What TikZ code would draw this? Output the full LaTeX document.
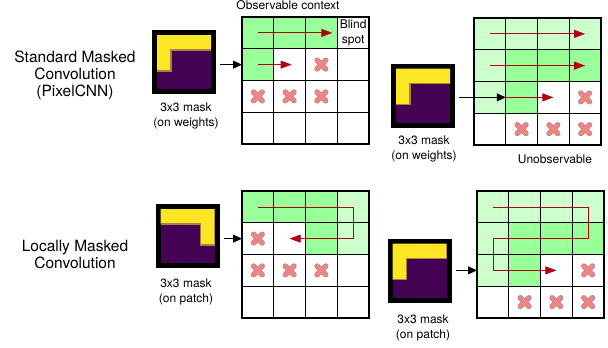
\documentclass[tikz,border=0pt]{standalone}
\usepackage{fontspec}
\setmainfont{TeX Gyre Heros}
\usetikzlibrary{arrows.meta}
\definecolor{gbright}{RGB}{153,255,153}
\definecolor{glight}{RGB}{204,255,204}
\definecolor{vyel}{HTML}{FDE725}
\definecolor{vpur}{HTML}{440154}
\definecolor{arrred}{RGB}{178,0,20}
\definecolor{xpink}{RGB}{245,130,130}
\definecolor{xgray}{RGB}{150,150,150}
\tikzset{
 cell/.style={draw=black, line width=1.1pt, minimum size=31.75pt, inner sep=0pt, outer sep=0pt},
 maskbox/.style={fill=black, minimum size=64pt, inner sep=0pt, outer sep=0pt},
 lbl/.style={font=\fontsize{12}{15}\selectfont, align=center, inner sep=0pt},
 biglbl/.style={font=\fontsize{15.5}{17}\selectfont, align=center, inner sep=0pt},
 feed/.style={-{Triangle[length=9pt,width=8pt]}, line width=0.9pt, black, shorten <=4pt},
 scan/.style={-{Triangle[length=11pt,width=8pt]}, line width=0.9pt, arrred},
}
\newcommand\mkgrid[4]{%
 \foreach \k [count=\i from 0] in {#4} {
   \pgfmathtruncatemacro\rr{int(\i/4)+1}
   \pgfmathtruncatemacro\cc{mod(\i,4)+1}
   \node[cell, fill=\k] (#1-\rr-\cc) at ({#2+(\cc-0.5)*31.75}, {#3+(\rr-0.5)*31.75}) {};
 }}
\newcommand\xmk[1]{\begin{scope}[shift={(#1.center)}]
 \draw[xgray, line width=5.6pt, line cap=round] (-4.3,-4.3) -- (4.3,4.3) (-4.3,4.3) -- (4.3,-4.3);
 \draw[xpink, line width=4.2pt, line cap=round] (-4.3,-4.3) -- (4.3,4.3) (-4.3,4.3) -- (4.3,-4.3);
\end{scope}}
\newcommand\maskfill[2]{\begin{scope}[shift={(#1.center)}, xscale=#2]
 \fill[vpur] (-27,-27) rectangle (27,27);
 \fill[vyel] (-27,-27) -- (27,-27) -- (27,-12) -- (-13,-12) -- (-13,9) -- (-27,9) -- cycle;
 \draw[vyel!55!vpur, line width=1.6pt] (27,-12) -- (-13,-12) -- (-13,9) -- (-27,9);
\end{scope}}
\begin{document}
\begin{tikzpicture}[x=1pt,y=-1pt]
\useasboundingbox (0,0) rectangle (608,348);
% grids
\mkgrid{G1}{242}{17}{gbright,gbright,gbright,white, gbright,white,white,white, white,white,white,white, white,white,white,white}
\mkgrid{G2}{474}{18}{glight,glight,glight,glight, glight,gbright,gbright,gbright, glight,gbright,white,white, white,white,white,white}
\mkgrid{G3}{242}{191}{gbright,gbright,gbright,glight, white,white,gbright,glight, white,white,white,white, white,white,white,white}
\mkgrid{G4}{477}{191}{glight,glight,glight,glight, glight,gbright,gbright,gbright, glight,gbright,white,white, white,white,white,white}
% crosses
\xmk{G1-2-3}\xmk{G1-3-1}\xmk{G1-3-2}\xmk{G1-3-3}
\xmk{G2-3-4}\xmk{G2-4-2}\xmk{G2-4-3}\xmk{G2-4-4}
\xmk{G3-2-1}\xmk{G3-3-1}\xmk{G3-3-2}\xmk{G3-3-3}
\xmk{G4-3-4}\xmk{G4-4-2}\xmk{G4-4-3}\xmk{G4-4-4}
% scan orders
\draw[scan] (G1-1-1.center) -- ([xshift=11pt]G1-1-3.center);
\draw[scan] (G1-2-1.center) -- ([xshift=2pt]G1-2-2.center);
\draw[scan] (G2-1-1.center) -- (G2-1-4.center);
\draw[scan] (G2-2-1.center) -- (G2-2-4.center);
\draw[scan] (G2-3-2.west) -- (G2-3-3.center);
\draw[scan, line width=0.7pt] (G3-1-1.center) -- (G3-1-4.center) -- (G3-2-4.center) -- (G3-2-2.center);
\draw[scan, line width=0.7pt] (G4-1-1.center) -- (G4-1-4.center) -- (G4-2-4.center) -- (G4-2-1.center) -- (G4-3-1.center) -- (G4-3-3.center);
% masks
\node[maskbox] (m1) at (184,62) {};
\node[maskbox] (m2) at (423,95.5) {};
\node[maskbox] (m3) at (187.5,236) {};
\node[maskbox] (m4) at (419.5,270.5) {};
\maskfill{m1}{1}
\maskfill{m2}{1}
\maskfill{m3}{-1}
\maskfill{m4}{1}
% feed arrows
\draw[feed] (m1.east |- G1-2-1.west) -- (G1-2-1.west);
\draw[feed] (m2.east |- G2-3-2.west) -- (G2-3-2.west);
\draw[feed] (m3.east |- G3-2-1.west) -- (G3-2-1.west);
\draw[feed] (m4.east |- G4-3-1.west) -- (G4-3-1.west);
% labels
\node[biglbl] (t1) at (75,75) {Standard Masked\\Convolution\\(PixelCNN)};
\node[biglbl] (t2) at (75,254.5) {Locally Masked\\Convolution};
\node[lbl] (l1) at (186,115.5) {3x3 mask\\(on weights)};
\node[lbl] (l2) at (424,149) {3x3 mask\\(on weights)};
\node[lbl] (l3) at (186,291.5) {3x3 mask\\(on patch)};
\node[lbl] (l4) at (423,328) {3x3 mask\\(on patch)};
\node[lbl, anchor=base] (oc) at (288,9.6) {Observable context};
\node[lbl] (bs) at (G1-1-4) {Blind\\spot};
\node[lbl] (uo) at (555,159) {Unobservable};
\end{tikzpicture}
\end{document}
